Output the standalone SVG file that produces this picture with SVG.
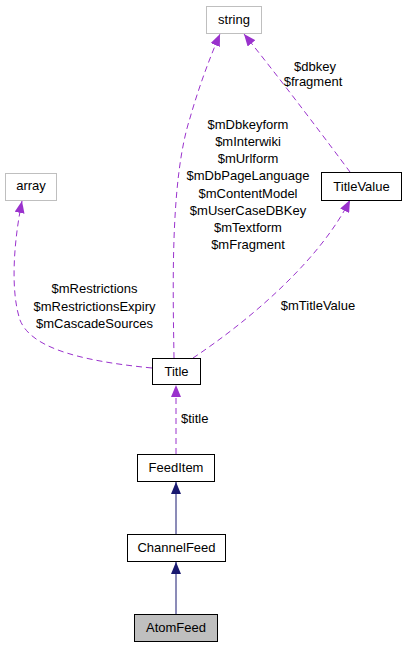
<svg xmlns="http://www.w3.org/2000/svg" width="407" height="648" viewBox="0 0 407 648">
<style>
text{font-family:"Liberation Sans",Arial,sans-serif;font-size:13px;fill:#000}
.n text{text-anchor:middle}
.box{fill:#fff;stroke:#000;stroke-width:1}
.gbox{fill:#fff;stroke:#bfbfbf;stroke-width:1}
.inh{fill:none;stroke:#191970;stroke-width:1}
.use{fill:none;stroke:#9a32cd;stroke-width:1;stroke-dasharray:6,4}
.lbl{text-anchor:middle}
</style>
<defs>
<marker id="an" viewBox="0 0 12 10" refX="12" refY="5" markerWidth="12" markerHeight="10" markerUnits="userSpaceOnUse" orient="auto"><path d="M0,0 L12,5 L0,10 z" fill="#191970"/></marker>
<marker id="ap" viewBox="0 0 12 10" refX="12" refY="5" markerWidth="12" markerHeight="10" markerUnits="userSpaceOnUse" orient="auto"><path d="M0,0 L12,5 L0,10 z" fill="#9a32cd"/></marker>
</defs>
<rect width="407" height="648" fill="#fff"/>
<g id="edges">
<path class="inh" d="M176,614 L176,562" marker-end="url(#an)"/>
<path class="inh" d="M176,534 L176,482" marker-end="url(#an)"/>
<path class="use" d="M176,454 L176,385" marker-end="url(#ap)"/>
<path class="use" d="M152,368 C70,360 30,345 20,320 C10,290 14,240 22,201" marker-end="url(#ap)"/>
<path class="use" d="M174,358 C173,290 170,180 190,118 C198,90 208,62 220,34" marker-end="url(#ap)"/>
<path class="use" d="M350,172 C330,145 285,85 244,34" marker-end="url(#ap)"/>
<path class="use" d="M193,358 C250,320 320,260 350,200" marker-end="url(#ap)"/>
<text x="181" y="423">$title</text>
<text class="lbl" x="318" y="310">$mTitleValue</text>
<text class="lbl" x="315" y="71">$dbkey</text>
<text class="lbl" x="313" y="86">$fragment</text>
<text class="lbl" x="248" y="129">$mDbkeyform</text>
<text class="lbl" x="248" y="146.1">$mInterwiki</text>
<text class="lbl" x="248" y="163.3">$mUrlform</text>
<text class="lbl" x="248" y="180.4">$mDbPageLanguage</text>
<text class="lbl" x="248" y="197.6">$mContentModel</text>
<text class="lbl" x="248" y="214.7">$mUserCaseDBKey</text>
<text class="lbl" x="248" y="231.9">$mTextform</text>
<text class="lbl" x="248" y="249">$mFragment</text>
<text class="lbl" x="94.5" y="293">$mRestrictions</text>
<text class="lbl" x="94.5" y="310.5">$mRestrictionsExpiry</text>
<text class="lbl" x="94.5" y="328">$mCascadeSources</text>
</g>
<g id="string" class="n"><rect class="gbox" x="206.5" y="6.5" width="55" height="27"/><text x="234" y="24">string</text></g>
<g id="array" class="n"><rect class="gbox" x="5.5" y="173.5" width="51" height="27"/><text x="31" y="190">array</text></g>
<g id="TitleValue" class="n"><rect class="box" x="321.5" y="172.5" width="80" height="28"/><text x="361.5" y="190.5">TitleValue</text></g>
<g id="Title" class="n"><rect class="box" x="152.5" y="358.5" width="48" height="26"/><text x="176.5" y="376">Title</text></g>
<g id="FeedItem" class="n"><rect class="box" x="137.5" y="454.5" width="77" height="27"/><text x="176" y="471.5">FeedItem</text></g>
<g id="ChannelFeed" class="n"><rect class="box" x="127.5" y="534.5" width="98" height="27"/><text x="176.5" y="551.5">ChannelFeed</text></g>
<g id="AtomFeed" class="n"><rect class="box" x="134.5" y="614.5" width="83" height="27" style="fill:#bfbfbf"/><text x="176" y="631.5">AtomFeed</text></g>
</svg>
